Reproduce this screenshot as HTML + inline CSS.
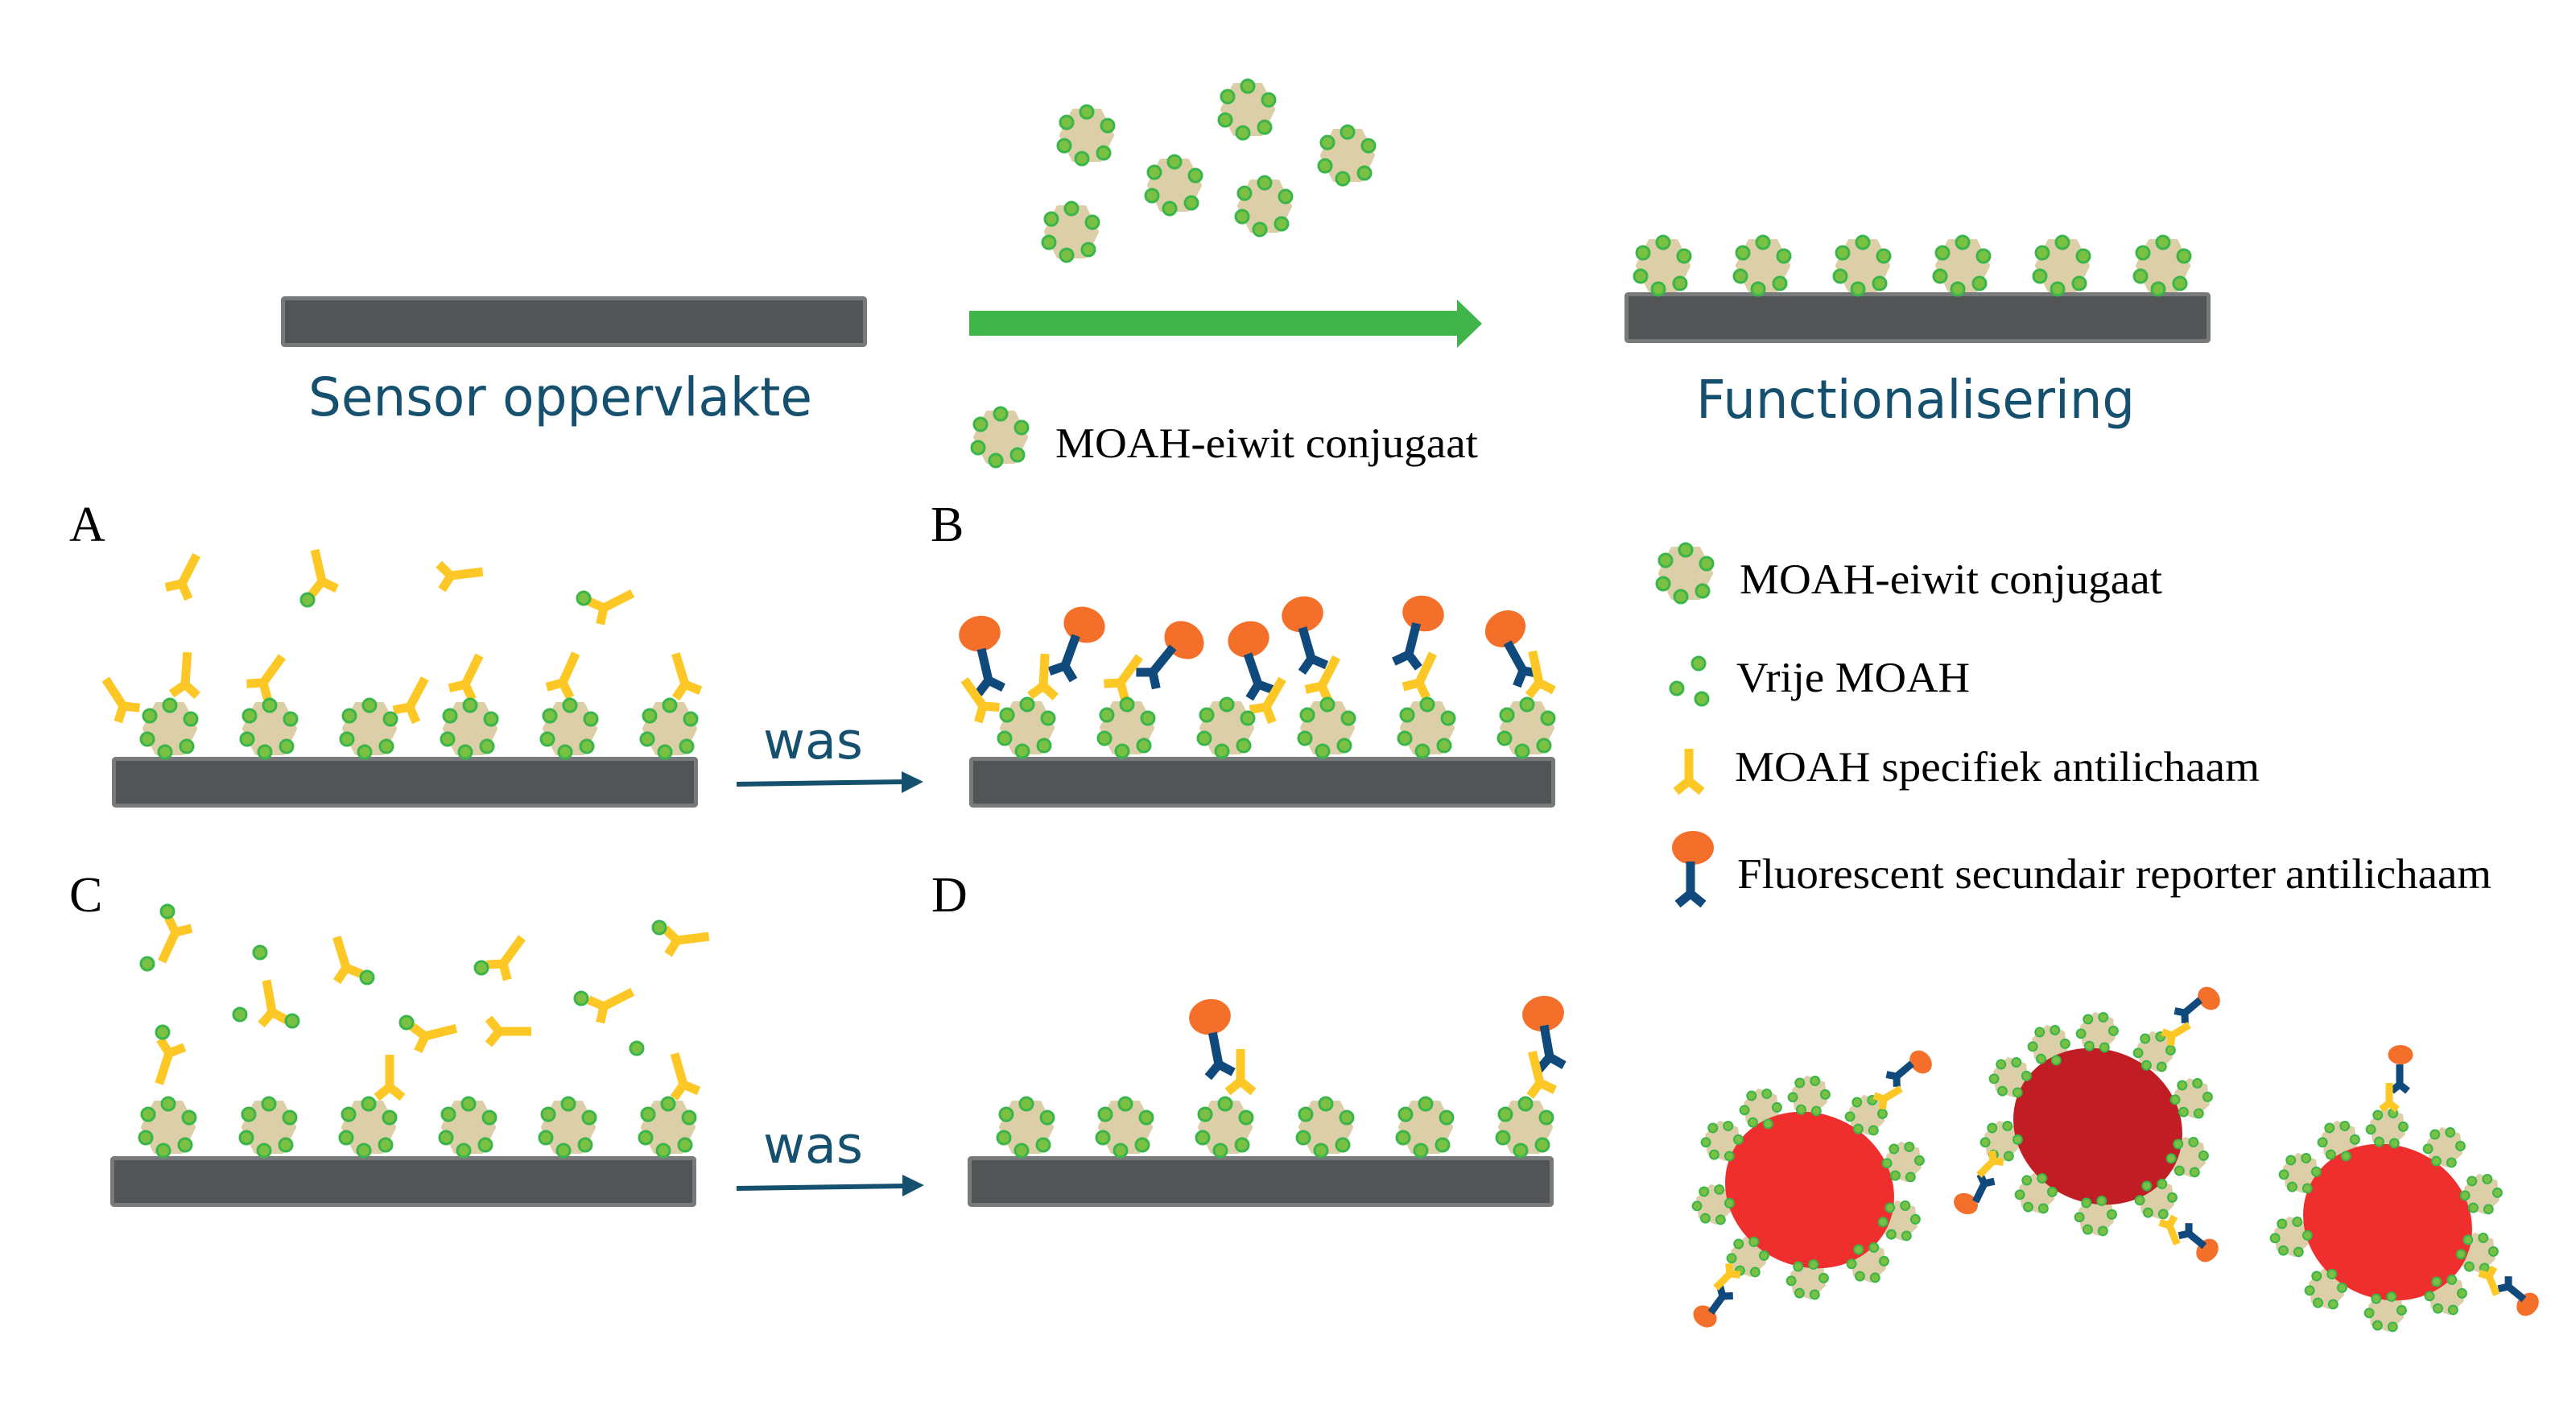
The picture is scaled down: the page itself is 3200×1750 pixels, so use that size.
<!DOCTYPE html>
<html><head><meta charset="utf-8"><style>
html,body{margin:0;padding:0;background:#fff}
svg{display:block}
.s{font-family:"Liberation Serif",serif;font-size:53px;fill:#000}
.l{font-family:"Liberation Serif",serif;font-size:62px;fill:#000}
.t{font-family:"DejaVu Sans",sans-serif;font-size:66px;fill:#15506f}
.w{font-family:"DejaVu Sans",sans-serif;font-size:63px;fill:#15506f}
</style></head><body>
<svg xmlns="http://www.w3.org/2000/svg" width="3200" height="1750" viewBox="0 0 3200 1750">
<defs>
<g id="h"><polygon points="31,0 16,-30 -16,-30 -31,0 -16,30 16,30" fill="#dccea6" stroke="#dccea6" stroke-width="6" stroke-linejoin="round"/></g>
<g id="d" fill="#7ac143" stroke="#39b54a" stroke-width="3"><circle cx="0" cy="-29" r="8"/><circle cx="-25" cy="-16" r="8"/><circle cx="26" cy="-12" r="8"/><circle cx="-28" cy="13" r="8"/><circle cx="21" cy="22" r="8"/><circle cx="-6" cy="29" r="8"/></g>
<g id="c"><use href="#h"/><use href="#d"/></g>
<circle id="g" r="8" fill="#7ac143" stroke="#39b54a" stroke-width="3"/>
<path id="y" d="M0 -40V0M-16 13L0 0L16 13" fill="none" stroke="#fdc726" stroke-width="11"/>
<path id="n" d="M0 -40V0M-16 13L0 0L16 13" fill="none" stroke="#10497c" stroke-width="11"/>
<path id="ys" d="M0 -25V0M-10 8L0 0L10 8" fill="none" stroke="#fdc726" stroke-width="9"/>
<path id="ns" d="M0 -25V0M-10 8L0 0L10 8" fill="none" stroke="#10497c" stroke-width="9"/>
<g id="bar"><rect x="2.5" y="2.5" width="723" height="58" rx="2" fill="#525556" stroke="#77797b" stroke-width="5"/></g>
<g id="cl">
<use href="#h" transform="translate(2248 1361) rotate(20) scale(.68)"/>
<use href="#h" transform="translate(2188 1377) rotate(20) scale(.68)"/>
<use href="#h" transform="translate(2319 1385) rotate(20) scale(.68)"/>
<use href="#h" transform="translate(2140 1417) rotate(20) scale(.68)"/>
<use href="#h" transform="translate(2365 1443) rotate(20) scale(.68)"/>
<use href="#h" transform="translate(2129 1496) rotate(20) scale(.68)"/>
<use href="#h" transform="translate(2360 1516) rotate(20) scale(.68)"/>
<use href="#h" transform="translate(2172 1561) rotate(20) scale(.68)"/>
<use href="#h" transform="translate(2321 1568) rotate(20) scale(.68)"/>
<use href="#h" transform="translate(2246 1589) rotate(20) scale(.68)"/>
<ellipse cx="2248" cy="1478" rx="107" ry="95" transform="rotate(25 2248 1478)"/>
<use href="#d" transform="translate(2248 1361) rotate(20) scale(.68)"/>
<use href="#d" transform="translate(2188 1377) rotate(20) scale(.68)"/>
<use href="#d" transform="translate(2319 1385) rotate(20) scale(.68)"/>
<use href="#d" transform="translate(2140 1417) rotate(20) scale(.68)"/>
<use href="#d" transform="translate(2365 1443) rotate(20) scale(.68)"/>
<use href="#d" transform="translate(2129 1496) rotate(20) scale(.68)"/>
<use href="#d" transform="translate(2360 1516) rotate(20) scale(.68)"/>
<use href="#d" transform="translate(2172 1561) rotate(20) scale(.68)"/>
<use href="#d" transform="translate(2321 1568) rotate(20) scale(.68)"/>
<use href="#d" transform="translate(2246 1589) rotate(20) scale(.68)"/>
</g>
</defs>
<rect width="3200" height="1750" fill="#fff"/>

<!-- top row -->
<use href="#bar" transform="translate(349 368)"/>
<use href="#bar" transform="translate(2018 363)"/>
<polygon points="1204,386 1810,386 1810,372 1841,402 1810,432 1810,417 1204,417" fill="#3fb54a"/>
<text class="t" x="383" y="516" textLength="626" lengthAdjust="spacingAndGlyphs">Sensor oppervlakte</text>
<text class="t" x="2107" y="519" textLength="545" lengthAdjust="spacingAndGlyphs">Functionalisering</text>
<use href="#c" transform="translate(1350 168)"/>
<use href="#c" transform="translate(1550 136)"/>
<use href="#c" transform="translate(1674 193)"/>
<use href="#c" transform="translate(1459 230)"/>
<use href="#c" transform="translate(1571 256)"/>
<use href="#c" transform="translate(1331 288)"/>
<use href="#c" transform="translate(2066 330)"/>
<use href="#c" transform="translate(2190 330)"/>
<use href="#c" transform="translate(2314 330)"/>
<use href="#c" transform="translate(2438 330)"/>
<use href="#c" transform="translate(2562 330)"/>
<use href="#c" transform="translate(2687 330)"/>
<use href="#c" transform="translate(1243 543)"/>
<text class="s" x="1311" y="568" textLength="525" lengthAdjust="spacingAndGlyphs">MOAH-eiwit conjugaat</text>

<!-- labels -->
<text class="l" x="86" y="672">A</text>
<text class="l" x="1156" y="672">B</text>
<text class="l" x="86" y="1132">C</text>
<text class="l" x="1157" y="1132">D</text>

<!-- Panel A -->
<use href="#bar" transform="translate(139 940)"/>
<use href="#y" transform="translate(226 725) rotate(27)"/>
<use href="#y" transform="translate(400 722) rotate(-13)"/>
<use href="#y" transform="translate(560 715) rotate(83)"/>
<use href="#y" transform="translate(750 755) rotate(63)"/>
<use href="#y" transform="translate(230 850) rotate(4)"/>
<use href="#y" transform="translate(153 877) rotate(-33)"/>
<use href="#y" transform="translate(327 848) rotate(36)"/>
<use href="#y" transform="translate(509 878) rotate(28)"/>
<use href="#y" transform="translate(578 850) rotate(26)"/>
<use href="#y" transform="translate(699 848) rotate(24)"/>
<use href="#y" transform="translate(851 850) rotate(-17)"/>
<use href="#g" transform="translate(382 745)"/>
<use href="#g" transform="translate(725 743)"/>
<use href="#c" transform="translate(211 905)"/>
<use href="#c" transform="translate(335 905)"/>
<use href="#c" transform="translate(459 905)"/>
<use href="#c" transform="translate(584 905)"/>
<use href="#c" transform="translate(708 905)"/>
<use href="#c" transform="translate(832 905)"/>

<!-- arrow 1 -->
<text class="w" x="948" y="942" textLength="124" lengthAdjust="spacingAndGlyphs">was</text>
<line x1="915" y1="974" x2="1122" y2="971" stroke="#15506f" stroke-width="6"/>
<polygon points="1120,958 1147,971 1120,985" fill="#15506f"/>

<!-- Panel B -->
<use href="#bar" transform="translate(1204 940)"/>
<ellipse cx="1217" cy="787" rx="26" ry="22" fill="#f4702a" transform="rotate(-13 1217 787)"/>
<ellipse cx="1347" cy="776" rx="26" ry="22" fill="#f4702a" transform="rotate(20 1347 776)"/>
<ellipse cx="1471" cy="795" rx="26" ry="22" fill="#f4702a" transform="rotate(39 1471 795)"/>
<ellipse cx="1551" cy="794" rx="26" ry="22" fill="#f4702a" transform="rotate(-19 1551 794)"/>
<ellipse cx="1618" cy="763" rx="26" ry="22" fill="#f4702a" transform="rotate(-16 1618 763)"/>
<ellipse cx="1768" cy="762" rx="26" ry="22" fill="#f4702a" transform="rotate(14 1768 762)"/>
<ellipse cx="1870" cy="781" rx="26" ry="22" fill="#f4702a" transform="rotate(-29 1870 781)"/>
<use href="#n" transform="translate(1228 845) rotate(-13)"/>
<use href="#n" transform="translate(1323 827) rotate(20)"/>
<use href="#n" transform="translate(1432 835) rotate(39)"/>
<use href="#n" transform="translate(1563 850) rotate(-19)"/>
<use href="#n" transform="translate(1629 818) rotate(-16)"/>
<use href="#n" transform="translate(1750 813) rotate(14)"/>
<use href="#n" transform="translate(1892 833) rotate(-29)"/>
<use href="#y" transform="translate(1221 877) rotate(-35)"/>
<use href="#y" transform="translate(1296 852) rotate(3)"/>
<use href="#y" transform="translate(1392 848) rotate(36)"/>
<use href="#y" transform="translate(1573 878) rotate(30)"/>
<use href="#y" transform="translate(1642 852) rotate(27)"/>
<use href="#y" transform="translate(1763 848) rotate(25)"/>
<use href="#y" transform="translate(1912 848) rotate(-12)"/>
<use href="#c" transform="translate(1276 904)"/>
<use href="#c" transform="translate(1400 904)"/>
<use href="#c" transform="translate(1524 904)"/>
<use href="#c" transform="translate(1649 904)"/>
<use href="#c" transform="translate(1773 904)"/>
<use href="#c" transform="translate(1897 904)"/>

<!-- Panel C -->
<use href="#bar" transform="translate(137 1436)"/>
<use href="#y" transform="translate(218 1158) rotate(205)"/>
<use href="#y" transform="translate(430 1202) rotate(-17)"/>
<use href="#y" transform="translate(625 1197) rotate(36)"/>
<use href="#y" transform="translate(841 1168) rotate(83)"/>
<use href="#y" transform="translate(338 1257) rotate(-10)"/>
<use href="#y" transform="translate(750 1250) rotate(63)"/>
<use href="#y" transform="translate(528 1287) rotate(76)"/>
<use href="#y" transform="translate(620 1281) rotate(90)"/>
<use href="#y" transform="translate(210 1308) rotate(198)"/>
<use href="#y" transform="translate(484 1350) rotate(0)"/>
<use href="#y" transform="translate(849 1347) rotate(-16)"/>
<use href="#g" transform="translate(208 1132)"/>
<use href="#g" transform="translate(183 1197)"/>
<use href="#g" transform="translate(323 1183)"/>
<use href="#g" transform="translate(456 1214)"/>
<use href="#g" transform="translate(598 1202)"/>
<use href="#g" transform="translate(819 1152)"/>
<use href="#g" transform="translate(363 1268)"/>
<use href="#g" transform="translate(298 1260)"/>
<use href="#g" transform="translate(722 1240)"/>
<use href="#g" transform="translate(505 1270)"/>
<use href="#g" transform="translate(202 1282)"/>
<use href="#g" transform="translate(791 1302)"/>
<use href="#c" transform="translate(209 1400)"/>
<use href="#c" transform="translate(334 1400)"/>
<use href="#c" transform="translate(458 1400)"/>
<use href="#c" transform="translate(582 1400)"/>
<use href="#c" transform="translate(706 1400)"/>
<use href="#c" transform="translate(830 1400)"/>

<!-- arrow 2 -->
<text class="w" x="948" y="1444" textLength="124" lengthAdjust="spacingAndGlyphs">was</text>
<line x1="915" y1="1476" x2="1123" y2="1473" stroke="#15506f" stroke-width="6"/>
<polygon points="1121,1459 1148,1472 1121,1486" fill="#15506f"/>

<!-- Panel D -->
<use href="#bar" transform="translate(1202 1436)"/>
<ellipse cx="1503" cy="1263" rx="26" ry="22" fill="#f4702a" transform="rotate(-11 1503 1263)"/>
<ellipse cx="1917" cy="1259" rx="26" ry="22" fill="#f4702a" transform="rotate(-10 1917 1259)"/>
<use href="#n" transform="translate(1514 1322) rotate(-11)"/>
<use href="#n" transform="translate(1925 1313) rotate(-10)"/>
<use href="#y" transform="translate(1541 1343) rotate(0)"/>
<use href="#y" transform="translate(1913 1345) rotate(-14)"/>
<use href="#c" transform="translate(1275 1400)"/>
<use href="#c" transform="translate(1398 1400)"/>
<use href="#c" transform="translate(1522 1400)"/>
<use href="#c" transform="translate(1647 1400)"/>
<use href="#c" transform="translate(1771 1400)"/>
<use href="#c" transform="translate(1895 1400)"/>

<!-- Legend -->
<use href="#c" transform="translate(2094 712)"/>
<text class="s" x="2161" y="737" textLength="525" lengthAdjust="spacingAndGlyphs">MOAH-eiwit conjugaat</text>
<use href="#g" transform="translate(2110 824)"/>
<use href="#g" transform="translate(2083 855)"/>
<use href="#g" transform="translate(2114 868)"/>
<text class="s" x="2157" y="859" textLength="290" lengthAdjust="spacingAndGlyphs">Vrije MOAH</text>
<use href="#y" transform="translate(2098 970)"/>
<text class="s" x="2155" y="970" textLength="652" lengthAdjust="spacingAndGlyphs">MOAH specifiek antilichaam</text>
<ellipse cx="2103" cy="1053" rx="26" ry="21" fill="#f4702a"/>
<use href="#n" transform="translate(2100 1110)"/>
<text class="s" x="2158" y="1103" textLength="669" lengthAdjust="spacingAndGlyphs">Fluorescent secundair reporter</text>
<text class="s" x="2839" y="1103" textLength="256" lengthAdjust="spacingAndGlyphs">antilichaam</text>

<!-- Particles -->
<use href="#cl" fill="#ee2f2e"/>
<use href="#cl" fill="#c01e24" transform="translate(358 -79)"/>
<use href="#cl" fill="#ee2f2e" transform="translate(718 40)"/>

<!-- P1 antibodies -->
<ellipse cx="2386" cy="1319" rx="15.5" ry="12.5" fill="#f4702a" transform="rotate(50 2386 1319)"/>
<use href="#ns" transform="translate(2356 1337) rotate(50)"/>
<use href="#ys" transform="translate(2340 1365) rotate(59)"/>
<ellipse cx="2118" cy="1635" rx="15.5" ry="12.5" fill="#f4702a" transform="rotate(36 2118 1635)"/>
<use href="#ns" transform="translate(2140 1610) rotate(216)"/>
<use href="#ys" transform="translate(2149 1582) rotate(225)"/>
<!-- P2 antibodies -->
<ellipse cx="2744" cy="1240" rx="15.5" ry="12.5" fill="#f4702a" transform="rotate(50 2744 1240)"/>
<use href="#ns" transform="translate(2714 1258) rotate(50)"/>
<use href="#ys" transform="translate(2698 1286) rotate(59)"/>
<ellipse cx="2442" cy="1495" rx="15.5" ry="12.5" fill="#f4702a" transform="rotate(26 2442 1495)"/>
<use href="#ns" transform="translate(2465 1470) rotate(206)"/>
<use href="#ys" transform="translate(2476 1442) rotate(225)"/>
<ellipse cx="2742" cy="1553" rx="15.5" ry="12.5" fill="#f4702a" transform="rotate(-51 2742 1553)"/>
<use href="#ns" transform="translate(2719 1532) rotate(129)"/>
<use href="#ys" transform="translate(2695 1522) rotate(158)"/>
<!-- P3 antibodies -->
<ellipse cx="2982" cy="1310" rx="15.5" ry="12" fill="#f4702a"/>
<use href="#ns" transform="translate(2981 1347)"/>
<use href="#ys" transform="translate(2968 1370)"/>
<ellipse cx="3140" cy="1620" rx="15.5" ry="12.5" fill="#f4702a" transform="rotate(-51 3140 1620)"/>
<use href="#ns" transform="translate(3116 1598) rotate(129)"/>
<use href="#ys" transform="translate(3092 1585) rotate(158)"/>
</svg>
</body></html>
